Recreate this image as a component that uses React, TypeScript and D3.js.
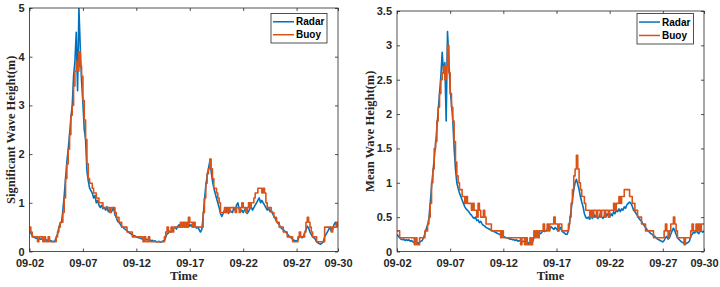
import { useRef, useEffect } from 'react';
import * as d3 from 'd3';

// 3-hourly samples starting 2023-09-02 00:00, one row per day
const START = new Date(2023, 8, 2);
const STEP_HOURS = 3;

const HS_RADAR = [
  0.42, 0.38, 0.33, 0.30, 0.28, 0.27, 0.26, 0.27,
  0.25, 0.26, 0.24, 0.25, 0.23, 0.24, 0.22, 0.23,
  0.22, 0.21, 0.20, 0.22, 0.28, 0.36, 0.50, 0.58,
  0.60, 0.85, 1.15, 1.50, 1.85, 2.10, 2.40, 2.75,
  3.00, 3.60, 3.90, 4.50, 3.30, 5.00, 4.20, 3.50,
  3.05, 2.50, 2.30, 1.65, 1.45, 1.30, 1.25, 1.20,
  1.10, 1.15, 1.00, 1.05, 0.95, 0.90, 0.95, 0.88,
  0.90, 0.85, 0.92, 0.82, 0.86, 0.80, 0.85, 0.90,
  0.75, 0.70, 0.62, 0.60, 0.56, 0.52, 0.50, 0.47,
  0.45, 0.43, 0.40, 0.38, 0.36, 0.34, 0.33, 0.32,
  0.30, 0.29, 0.28, 0.27, 0.26, 0.25, 0.25, 0.24,
  0.25, 0.23, 0.24, 0.22, 0.23, 0.21, 0.22, 0.20,
  0.20, 0.21, 0.19, 0.20, 0.22, 0.21, 0.30, 0.36,
  0.38, 0.42, 0.40, 0.45, 0.48, 0.50, 0.46, 0.52,
  0.55, 0.50, 0.58, 0.53, 0.56, 0.50, 0.55, 0.60,
  0.52, 0.55, 0.50, 0.58, 0.52, 0.48, 0.50, 0.45,
  0.40, 0.45, 0.70, 1.05, 1.35, 1.55, 1.70, 1.85,
  1.65, 1.45, 1.30, 1.20, 1.10, 1.00, 0.90, 0.78,
  0.72, 0.78, 0.85, 0.80, 0.90, 0.78, 0.85, 0.82,
  0.80, 0.90, 0.85, 0.95, 1.00, 0.88, 0.82, 0.85,
  0.80, 0.85, 0.90, 0.78, 0.82, 0.88, 0.92, 0.85,
  0.90, 0.95, 1.00, 1.05, 1.10, 1.00, 1.05, 1.00,
  0.95, 0.90, 0.85, 0.90, 0.82, 0.85, 0.78, 0.72,
  0.68, 0.62, 0.58, 0.55, 0.50, 0.47, 0.45, 0.42,
  0.40, 0.36, 0.33, 0.30, 0.28, 0.25, 0.23, 0.22,
  0.22, 0.24, 0.30, 0.32, 0.28, 0.30, 0.38, 0.45,
  0.52, 0.48, 0.40, 0.35, 0.30, 0.28, 0.25, 0.20,
  0.18, 0.16, 0.15, 0.17, 0.20, 0.30, 0.35, 0.40,
  0.45, 0.50, 0.42, 0.45, 0.55, 0.60, 0.52, 0.58,
];

const HS_BUOY = [
  0.5, 0.4, 0.3, 0.3, 0.3, 0.3, 0.2, 0.3,
  0.3, 0.3, 0.2, 0.3, 0.2, 0.2, 0.3, 0.2,
  0.2, 0.2, 0.2, 0.2, 0.3, 0.4, 0.5, 0.6,
  0.6, 0.8, 1.1, 1.5, 1.8, 2.1, 2.4, 2.8,
  3.0, 3.4, 3.7, 3.9, 3.7, 4.1, 3.8, 3.6,
  3.1, 2.7, 2.3, 1.8, 1.5, 1.4, 1.4, 1.3,
  1.2, 1.2, 1.1, 1.1, 1.0, 1.0, 1.0, 0.9,
  0.9, 0.9, 0.9, 0.9, 0.8, 0.9, 0.9, 0.9,
  0.8, 0.7, 0.7, 0.6, 0.6, 0.5, 0.5, 0.5,
  0.5, 0.4, 0.4, 0.4, 0.4, 0.3, 0.3, 0.3,
  0.3, 0.3, 0.3, 0.3, 0.3, 0.2, 0.3, 0.2,
  0.2, 0.3, 0.2, 0.2, 0.2, 0.2, 0.2, 0.2,
  0.2, 0.2, 0.2, 0.2, 0.2, 0.3, 0.4, 0.5,
  0.4, 0.4, 0.5, 0.4, 0.5, 0.5, 0.5, 0.5,
  0.5, 0.6, 0.5, 0.6, 0.5, 0.6, 0.5, 0.7,
  0.6, 0.6, 0.5, 0.6, 0.5, 0.5, 0.5, 0.5,
  0.5, 0.5, 0.8, 1.1, 1.4, 1.6, 1.7, 1.9,
  1.7, 1.5, 1.3, 1.3, 1.2, 1.1, 1.0, 0.8,
  0.8, 0.8, 0.9, 0.8, 0.9, 0.8, 0.9, 0.9,
  0.9, 0.9, 0.8, 0.9, 0.9, 0.8, 0.9, 1.0,
  0.9, 0.9, 0.8, 0.9, 1.0, 0.9, 1.0, 1.0,
  1.1, 1.2, 1.2, 1.3, 1.3, 1.3, 1.2, 1.3,
  1.2, 1.0, 0.9, 0.9, 0.9, 0.8, 0.8, 0.7,
  0.7, 0.6, 0.6, 0.5, 0.5, 0.5, 0.4, 0.4,
  0.4, 0.3, 0.3, 0.3, 0.3, 0.2, 0.2, 0.2,
  0.2, 0.3, 0.4, 0.3, 0.3, 0.3, 0.4, 0.6,
  0.7, 0.6, 0.5, 0.4, 0.3, 0.3, 0.3, 0.2,
  0.2, 0.2, 0.2, 0.2, 0.2, 0.5, 0.5, 0.5,
  0.5, 0.5, 0.4, 0.5, 0.5, 0.5, 0.6, 0.5,
];

const HM_RADAR = [
  0.25, 0.22, 0.20, 0.18, 0.17, 0.18, 0.16, 0.17,
  0.16, 0.17, 0.15, 0.16, 0.14, 0.13, 0.12, 0.13,
  0.12, 0.13, 0.15, 0.16, 0.20, 0.26, 0.33, 0.38,
  0.48, 0.70, 0.95, 1.15, 1.35, 1.55, 1.80, 2.05,
  2.30, 2.55, 2.90, 2.60, 2.75, 1.90, 3.20, 2.80,
  2.35, 2.15, 1.90, 1.50, 1.20, 1.00, 0.92, 0.85,
  0.80, 0.75, 0.70, 0.65, 0.62, 0.60, 0.58, 0.55,
  0.53, 0.50, 0.48, 0.50, 0.45, 0.46, 0.42, 0.44,
  0.40, 0.38, 0.37, 0.35, 0.34, 0.33, 0.32, 0.31,
  0.30, 0.29, 0.28, 0.27, 0.26, 0.25, 0.24, 0.23,
  0.22, 0.21, 0.20, 0.20, 0.19, 0.18, 0.18, 0.17,
  0.17, 0.16, 0.17, 0.15, 0.16, 0.15, 0.14, 0.15,
  0.14, 0.13, 0.14, 0.12, 0.13, 0.12, 0.14, 0.20,
  0.22, 0.25, 0.24, 0.27, 0.26, 0.28, 0.30, 0.29,
  0.30, 0.32, 0.35, 0.33, 0.36, 0.34, 0.32, 0.35,
  0.33, 0.30, 0.32, 0.35, 0.30, 0.28, 0.27, 0.25,
  0.25, 0.30, 0.45, 0.60, 0.75, 0.90, 1.00, 1.05,
  0.98, 0.90, 0.80, 0.72, 0.65, 0.55, 0.50, 0.48,
  0.50, 0.47, 0.52, 0.48, 0.55, 0.50, 0.53, 0.48,
  0.50, 0.55, 0.50, 0.48, 0.52, 0.50, 0.55, 0.52,
  0.50, 0.55, 0.52, 0.58, 0.55, 0.60, 0.58, 0.62,
  0.58, 0.62, 0.60, 0.65, 0.63, 0.68, 0.70, 0.72,
  0.70, 0.66, 0.60, 0.58, 0.55, 0.52, 0.48, 0.46,
  0.44, 0.40, 0.38, 0.35, 0.32, 0.30, 0.28, 0.26,
  0.25, 0.23, 0.22, 0.20, 0.18, 0.17, 0.16, 0.15,
  0.14, 0.16, 0.20, 0.22, 0.18, 0.20, 0.25, 0.30,
  0.34, 0.30, 0.25, 0.20, 0.18, 0.16, 0.14, 0.13,
  0.12, 0.11, 0.12, 0.13, 0.15, 0.22, 0.25, 0.28,
  0.27, 0.30, 0.28, 0.26, 0.29, 0.30, 0.28, 0.30,
];

const HM_BUOY = [
  0.3, 0.3, 0.2, 0.2, 0.2, 0.2, 0.2, 0.2,
  0.2, 0.2, 0.2, 0.2, 0.2, 0.1, 0.2, 0.1,
  0.1, 0.2, 0.2, 0.2, 0.2, 0.3, 0.3, 0.4,
  0.5, 0.7, 1.0, 1.2, 1.5, 1.6, 1.9, 2.1,
  2.3, 2.5, 2.6, 2.7, 2.5, 2.7, 3.0, 2.6,
  2.3, 2.1, 1.9, 1.6, 1.3, 1.1, 1.0, 0.9,
  0.9, 0.8, 0.8, 0.7, 0.8, 0.7, 0.7, 0.7,
  0.6, 0.7, 0.6, 0.6, 0.5, 0.7, 0.6, 0.5,
  0.5, 0.6, 0.5, 0.4, 0.4, 0.4, 0.4, 0.3,
  0.3, 0.3, 0.3, 0.3, 0.3, 0.3, 0.2, 0.3,
  0.2, 0.2, 0.2, 0.2, 0.2, 0.2, 0.2, 0.2,
  0.2, 0.2, 0.2, 0.2, 0.2, 0.1, 0.2, 0.2,
  0.1, 0.2, 0.1, 0.1, 0.2, 0.1, 0.2, 0.3,
  0.2, 0.3, 0.2, 0.3, 0.3, 0.3, 0.4, 0.3,
  0.3, 0.4, 0.3, 0.4, 0.4, 0.4, 0.5, 0.4,
  0.4, 0.3, 0.4, 0.4, 0.3, 0.3, 0.3, 0.3,
  0.3, 0.4, 0.5, 0.7, 0.9, 1.1, 1.2, 1.4,
  1.2, 1.0, 0.9, 0.8, 0.8, 0.7, 0.6, 0.6,
  0.6, 0.5, 0.6, 0.5, 0.6, 0.6, 0.5, 0.6,
  0.6, 0.5, 0.6, 0.6, 0.5, 0.6, 0.6, 0.5,
  0.6, 0.6, 0.6, 0.7, 0.6, 0.7, 0.7, 0.8,
  0.7, 0.8, 0.8, 0.9, 0.9, 0.9, 0.9, 0.8,
  0.8, 0.7, 0.7, 0.6, 0.6, 0.5, 0.5, 0.5,
  0.4, 0.4, 0.4, 0.3, 0.3, 0.3, 0.3, 0.3,
  0.3, 0.2, 0.2, 0.2, 0.2, 0.2, 0.2, 0.2,
  0.2, 0.3, 0.4, 0.3, 0.2, 0.3, 0.4, 0.4,
  0.5, 0.4, 0.3, 0.2, 0.2, 0.2, 0.2, 0.2,
  0.1, 0.2, 0.2, 0.2, 0.2, 0.3, 0.4, 0.3,
  0.3, 0.4, 0.3, 0.4, 0.3, 0.4, 0.4, 0.4,
];

const X_TICK_DAYS = [2, 7, 12, 17, 22, 27];
const HS_TICKS = [0, 1, 2, 3, 4, 5];
const HM_TICKS = [0, 0.5, 1, 1.5, 2, 2.5, 3, 3.5];
const SERIES_NAMES = ['Radar', 'Buoy'];
const SERIES_COLORS = ['#0072BD', '#D95319'];

const AXIS_COLOR = '#262626';
const SANS = '"Liberation Sans", Arial, sans-serif';
const SERIF = '"Liberation Serif", "Times New Roman", serif';

const TIMES = HS_RADAR.map((_, i) => d3.timeHour.offset(START, i * STEP_HOURS));
const X_TICKS = [
  ...X_TICK_DAYS.map((d) => new Date(2023, 8, d)),
  TIMES[TIMES.length - 1],
];

interface Box { left: number; right: number; top: number; bottom: number }
interface LegendBox { x: number; y: number; w: number; h: number }

interface PanelProps {
  id: string;
  radar: number[];
  buoy: number[];
  yMax: number;
  yTicks: number[];
  yLabel: string;
  yLabelX: number;
  box: Box;
  legend: LegendBox;
}

function WavePanel({ id, radar, buoy, yMax, yTicks, yLabel, yLabelX, box, legend }: PanelProps) {
  const gRef = useRef<SVGGElement>(null);

  useEffect(() => {
    if (!gRef.current) return;
    const g = d3.select(gRef.current);
    g.selectAll('*').remove();

    const x = d3
      .scaleTime()
      .domain(d3.extent(TIMES) as [Date, Date])
      .range([box.left, box.right]);
    const y = d3.scaleLinear().domain([0, yMax]).range([box.bottom, box.top]);

    g.append('rect')
      .attr('x', box.left)
      .attr('y', box.top)
      .attr('width', box.right - box.left)
      .attr('height', box.bottom - box.top)
      .attr('fill', '#ffffff');

    const clipId = `clip-${id}`;
    g.append('clipPath')
      .attr('id', clipId)
      .append('rect')
      .attr('x', box.left)
      .attr('y', box.top)
      .attr('width', box.right - box.left)
      .attr('height', box.bottom - box.top);

    const plot = g.append('g').attr('clip-path', `url(#${clipId})`);

    const radarLine = d3
      .line<number>()
      .x((_, i) => x(TIMES[i]))
      .y((d) => y(d));
    const buoyLine = d3
      .line<number>()
      .curve(d3.curveStepAfter)
      .x((_, i) => x(TIMES[i]))
      .y((d) => y(d));

    plot.append('path')
      .attr('d', radarLine(radar))
      .attr('fill', 'none')
      .attr('stroke', SERIES_COLORS[0])
      .attr('stroke-width', 1.6)
      .attr('stroke-linejoin', 'round');
    plot.append('path')
      .attr('d', buoyLine(buoy))
      .attr('fill', 'none')
      .attr('stroke', SERIES_COLORS[1])
      .attr('stroke-width', 1.6)
      .attr('stroke-linejoin', 'round');

    const fmt = d3.timeFormat('%m-%d');
    const styleAxis = (a: d3.Selection<SVGGElement, unknown, null, undefined>) => {
      a.select('.domain').remove();
      a.selectAll('line').attr('stroke', AXIS_COLOR).attr('stroke-width', 0.8);
      a.selectAll('text')
        .attr('font-family', SANS)
        .attr('font-size', 11)
        .attr('font-weight', 'bold')
        .attr('fill', AXIS_COLOR);
    };

    g.append('g')
      .attr('transform', `translate(0,${box.bottom})`)
      .call(
        d3.axisBottom(x)
          .tickValues(X_TICKS)
          .tickFormat((d) => fmt(d as Date))
          .tickSizeInner(-3)
          .tickSizeOuter(0)
          .tickPadding(8),
      )
      .call(styleAxis);

    g.append('g')
      .attr('transform', `translate(0,${box.top})`)
      .call(d3.axisTop(x).tickValues(X_TICKS).tickFormat(() => '').tickSizeInner(-3).tickSizeOuter(0))
      .call(styleAxis);

    g.append('g')
      .attr('transform', `translate(${box.left},0)`)
      .call(
        d3.axisLeft(y)
          .tickValues(yTicks)
          .tickFormat((d) => String(d))
          .tickSizeInner(-3)
          .tickSizeOuter(0)
          .tickPadding(5),
      )
      .call(styleAxis);

    g.append('g')
      .attr('transform', `translate(${box.right},0)`)
      .call(d3.axisRight(y).tickValues(yTicks).tickFormat(() => '').tickSizeInner(-3).tickSizeOuter(0))
      .call(styleAxis);

    g.append('rect')
      .attr('x', box.left)
      .attr('y', box.top)
      .attr('width', box.right - box.left)
      .attr('height', box.bottom - box.top)
      .attr('fill', 'none')
      .attr('stroke', AXIS_COLOR)
      .attr('stroke-width', 0.8);

    g.append('text')
      .attr('x', (box.left + box.right) / 2)
      .attr('y', 280)
      .attr('text-anchor', 'middle')
      .attr('font-family', SERIF)
      .attr('font-weight', 'bold')
      .attr('font-size', 12.5)
      .attr('fill', AXIS_COLOR)
      .text('Time');

    g.append('text')
      .attr('transform', `translate(${yLabelX},${(box.top + box.bottom) / 2}) rotate(-90)`)
      .attr('text-anchor', 'middle')
      .attr('font-family', SERIF)
      .attr('font-weight', 'bold')
      .attr('font-size', 12.5)
      .attr('fill', AXIS_COLOR)
      .text(yLabel);

    // legend
    const lg = g.append('g');
    lg.append('rect')
      .attr('x', legend.x)
      .attr('y', legend.y)
      .attr('width', legend.w)
      .attr('height', legend.h)
      .attr('fill', '#ffffff')
      .attr('stroke', AXIS_COLOR)
      .attr('stroke-width', 0.8);
    SERIES_NAMES.forEach((name, i) => {
      const ry = legend.y + legend.h * (i === 0 ? 0.28 : 0.72);
      lg.append('line')
        .attr('x1', legend.x + 2)
        .attr('x2', legend.x + 23)
        .attr('y1', ry)
        .attr('y2', ry)
        .attr('stroke', SERIES_COLORS[i])
        .attr('stroke-width', 1.5);
      lg.append('text')
        .attr('x', legend.x + 25)
        .attr('y', ry)
        .attr('dy', '0.35em')
        .attr('font-family', SANS)
        .attr('font-weight', 'bold')
        .attr('font-size', 10)
        .attr('fill', '#000000')
        .text(name);
    });
  }, [id, radar, buoy, yMax, yTicks, yLabel, yLabelX, box, legend]);

  return <g ref={gRef} />;
}

const LEFT_BOX: Box = { left: 29.5, right: 338, top: 8, bottom: 251.5 };
const RIGHT_BOX: Box = { left: 397, right: 704, top: 11, bottom: 251.5 };
const LEFT_LEGEND: LegendBox = { x: 271, y: 13.5, w: 56, h: 29.5 };
const RIGHT_LEGEND: LegendBox = { x: 637, y: 13.5, w: 56.5, h: 30.5 };

export default function App() {
  return (
    <svg
      width={720}
      height={287}
      viewBox="0 0 720 287"
      style={{ position: 'absolute', left: 0, top: 0, background: '#ffffff' }}
    >
      <WavePanel
        id="hs"
        radar={HS_RADAR}
        buoy={HS_BUOY}
        yMax={5}
        yTicks={HS_TICKS}
        yLabel="Significant Wave Height(m)"
        yLabelX={15}
        box={LEFT_BOX}
        legend={LEFT_LEGEND}
      />
      <WavePanel
        id="hm"
        radar={HM_RADAR}
        buoy={HM_BUOY}
        yMax={3.5}
        yTicks={HM_TICKS}
        yLabel="Mean Wave Height(m)"
        yLabelX={373.5}
        box={RIGHT_BOX}
        legend={RIGHT_LEGEND}
      />
    </svg>
  );
}
